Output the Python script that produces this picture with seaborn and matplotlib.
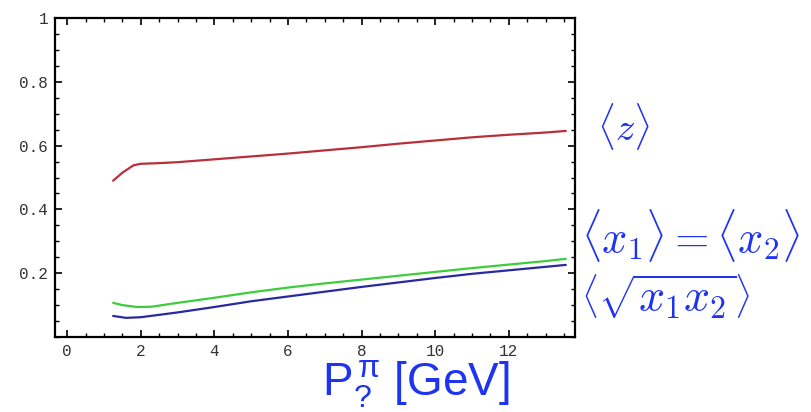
import numpy as np
import pandas as pd
import matplotlib
matplotlib.use("Agg")
import matplotlib.pyplot as plt
import seaborn as sns
from matplotlib.ticker import MultipleLocator, FixedLocator, FixedFormatter

# data
z_x = [1.25, 1.5, 1.8, 2.0, 2.5, 3.0, 4.0, 5.0, 6.0, 7.0, 8.0, 9.0, 10.0, 11.0, 12.0, 13.0, 13.55]
z_y = [0.49, 0.515, 0.538, 0.543, 0.545, 0.548, 0.557, 0.566, 0.575, 0.585, 0.595, 0.606, 0.616, 0.626, 0.634, 0.641, 0.646]

x12_x = [1.25, 1.5, 1.9, 2.3, 3.0, 4.0, 5.0, 6.0, 7.0, 8.0, 9.0, 10.0, 11.0, 12.0, 13.0, 13.55]
x12_y = [0.107, 0.100, 0.094, 0.095, 0.107, 0.123, 0.140, 0.155, 0.168, 0.180, 0.192, 0.204, 0.216, 0.227, 0.238, 0.245]

sq_x = [1.25, 1.6, 2.0, 3.0, 4.0, 5.0, 6.0, 7.0, 8.0, 9.0, 10.0, 11.0, 12.0, 13.0, 13.55]
sq_y = [0.066, 0.060, 0.062, 0.077, 0.094, 0.112, 0.127, 0.142, 0.157, 0.171, 0.185, 0.198, 0.209, 0.220, 0.226]

xticks = [0, 2, 4, 6, 8, 10, 12]
xticklabels = ["0", "2", "4", "6", "8", "10", "12"]
yticks = [0.2, 0.4, 0.6, 0.8, 1.0]
yticklabels = ["0.2", "0.4", "0.6", "0.8", "1"]

labels = [r"$\langle z\rangle$", r"$\langle x_1\rangle = \langle x_2\rangle$", r"$\left\langle\sqrt{x_1x_2}\right\rangle$"]
xlabel = r"P$\mathregular{_?^{\,\pi}}$ [GeV]"

sns.set_style("white")
plt.rcParams["font.family"] = ["Liberation Sans", "DejaVu Sans"]
plt.rcParams["mathtext.fontset"] = "cm"

fig = plt.figure(figsize=(8.11, 4.12), dpi=100)
ax = fig.add_axes([55/811, 1-337/412, (575-55)/811, (337-18)/412])

sns.lineplot(x=z_x, y=z_y, ax=ax, color="#b8303a", lw=1.6)
sns.lineplot(x=x12_x, y=x12_y, ax=ax, color="#3ccc3c", lw=1.6)
sns.lineplot(x=sq_x, y=sq_y, ax=ax, color="#2a2aa0", lw=1.6)

ax.set_xlim(-0.33, 13.8)
ax.set_ylim(0, 1)
ax.xaxis.set_major_locator(FixedLocator(xticks))
ax.xaxis.set_major_formatter(FixedFormatter(xticklabels))
ax.yaxis.set_major_locator(FixedLocator(yticks))
ax.yaxis.set_major_formatter(FixedFormatter(yticklabels))
ax.xaxis.set_minor_locator(MultipleLocator(0.5))
ax.yaxis.set_minor_locator(MultipleLocator(0.05))
ax.tick_params(which="both", direction="in", top=True, right=True, bottom=True, left=True,
               color="black")
ax.tick_params(which="major", length=5, width=1.2, labelsize=11.5, pad=5)
ax.tick_params(which="minor", length=3, width=1.0)
for lab in ax.get_xticklabels() + ax.get_yticklabels():
    lab.set_family("Liberation Mono")
    lab.set_color("#333333")
for s in ax.spines.values():
    s.set_color("black")
    s.set_linewidth(1.6)

txtc = "#1e34f0"
fig.text(597/811, 1-127/412, labels[0], color=txtc, fontsize=28, va="center", ha="left")
fig.text(581/811, 1-236/412, labels[1], color=txtc, fontsize=32, va="center", ha="left")
fig.text(581/811, 1-297/412, labels[2], color=txtc, fontsize=33, va="center", ha="left")
fig.text(416/811, 1-384/412, xlabel, color=txtc, fontsize=33, va="center", ha="center")

fig.savefig("out.png", dpi=100, facecolor="white")
